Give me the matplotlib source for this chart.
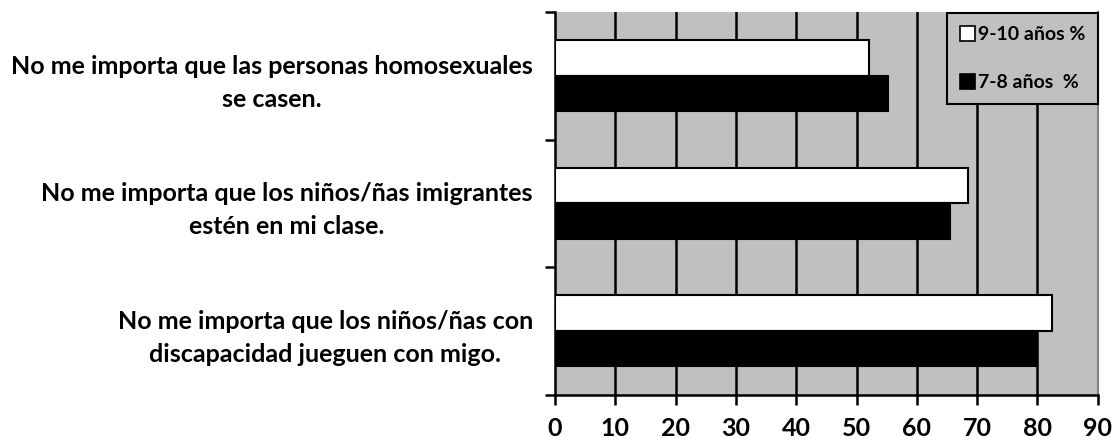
import numpy as np
import matplotlib
matplotlib.use("Agg")
import matplotlib.pyplot as plt
from matplotlib.patches import Patch

plt.rcParams['font.family'] = ['Lato', 'DejaVu Sans']
plt.rcParams['font.weight'] = 'bold'

# datos (de arriba a abajo)
categorias = [
    "No me importa que las personas homosexuales\nse casen.",
    "No me importa que los niños/ñas imigrantes\nestén en mi clase.",
    "No me importa que los niños/ñas con\ndiscapacidad jueguen con migo.",
]
pct_9_10 = [52.0, 68.5, 82.5]
pct_7_8 = [55.3, 65.5, 80.0]
etiquetas_serie = ["9-10 años %", "7-8 años  %"]
x_ticks = [0, 10, 20, 30, 40, 50, 60, 70, 80, 90]

gris = "#C0C0C0"

fig = plt.figure(figsize=(11.15, 4.45), dpi=100)
ax = fig.add_axes([555 / 1115, 1 - 394.5 / 445, (1097.7 - 555) / 1115, (394.5 - 12) / 445])
ax.set_facecolor(gris)

n = len(categorias)
centros = n - 0.5 - np.arange(n)  # primera categoría arriba
alto = 0.28

ax.barh(centros + alto / 2, pct_9_10, height=alto, color="white",
        edgecolor="black", linewidth=1.5, zorder=3)
ax.barh(centros - alto / 2, pct_7_8, height=alto, color="black",
        edgecolor="black", linewidth=1.5, zorder=3)

ax.set_xlim(0, 90)
ax.set_ylim(0, n)

# lineas verticales de la cuadricula
for xv in x_ticks[1:-1]:
    ax.axvline(xv, color="black", linewidth=1.8, zorder=1)

ax.set_xticks(x_ticks)
ax.set_xticklabels([str(v) for v in x_ticks], fontsize=18, fontweight='bold')
ax.tick_params(axis='x', direction='out', length=7, width=1.8, pad=9)

ax.set_yticks(np.arange(n + 1))
ax.set_yticklabels([])
ax.tick_params(axis='y', which='major', direction='out', length=7, width=1.8)
ax.set_yticks(centros, minor=True)
ax.set_yticklabels(categorias, minor=True, fontsize=18, fontweight='bold')
ax.tick_params(axis='y', which='minor', length=0, pad=16)
for lbl in ax.get_yticklabels(minor=True):
    lbl.set_multialignment('center')
    lbl.set_linespacing(1.53)

ax.spines['top'].set_visible(False)
ax.spines['right'].set_color("#808080")
ax.spines['right'].set_linewidth(1.5)
ax.spines['left'].set_linewidth(1.8)
ax.spines['bottom'].set_linewidth(1.8)

handles = [Patch(facecolor="white", edgecolor="black", linewidth=1.2),
           Patch(facecolor="black", edgecolor="black", linewidth=1.2)]
leg = ax.legend(handles, etiquetas_serie, loc='upper right',
                bbox_to_anchor=(1097.7 / 1115, 1 - 13 / 445),
                bbox_transform=fig.transFigure,
                prop={'weight': 'bold', 'size': 14},
                handlelength=0.8, handleheight=0.8, handletextpad=0.12,
                labelspacing=1.6, borderpad=0.65, borderaxespad=0,
                fancybox=False, framealpha=1)
leg.get_frame().set_facecolor(gris)
leg.get_frame().set_edgecolor("black")
leg.get_frame().set_linewidth(1.5)
leg.set_zorder(5)

fig.savefig("out.png", dpi=100)
